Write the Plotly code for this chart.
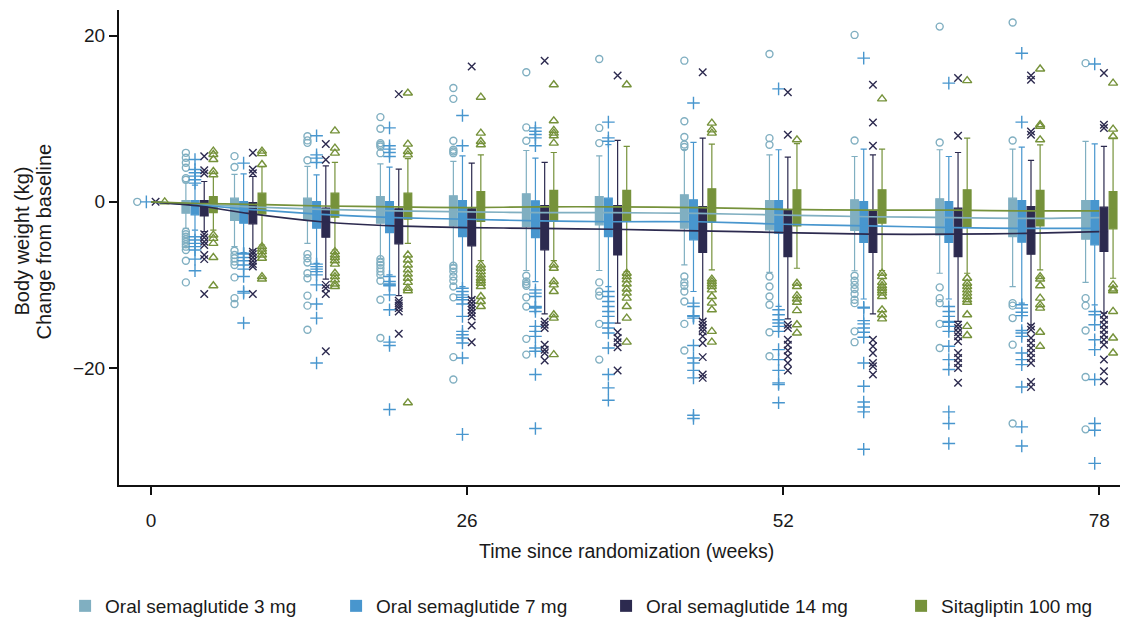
import plotly.graph_objects as go

# Visit schedule (weeks since randomization)
WEEKS = [4, 8, 14, 20, 26, 32, 38, 45, 52, 59, 66, 72, 78]
MEAN_WEEKS = [0, 4, 8, 14, 20, 26, 32, 38, 45, 52, 59, 66, 72, 78]
X_TICKS = [0, 26, 52, 78]
Y_TICKS = [-20, 0, 20]

NAMES = ["Oral semaglutide 3 mg", "Oral semaglutide 7 mg",
         "Oral semaglutide 14 mg", "Sitagliptin 100 mg"]
BASELINE = [0, 0, 0, 0]

# ---- Oral semaglutide 3 mg -------------------------------------------------
SEMA3_Q1 = [-1.37, -2.25, -2.17, -2.57, -2.9, -2.97, -2.77, -3.17, -3.37, -3.45, -3.98, -4.18, -4.5]
SEMA3_MED = [-0.4, -0.8, -0.8, -1.0, -1.1, -1.0, -1.1, -1.2, -1.6, -1.7, -1.8, -1.9, -2.1]
SEMA3_Q3 = [0.16, 0.44, 0.44, 0.64, 0.72, 0.96, 0.64, 0.84, 0.16, 0.24, 0.36, 0.44, 0.16]
SEMA3_LO = [-3.2, -5.4, -5.0, -6.8, -7.6, -8.27, -8.27, -7.6, -8.5, -8.3, -8.6, -10.2, -9.7]
SEMA3_HI = [2.3, 3.3, 4.26, 4.58, 4.86, 6.18, 5.54, 6.3, 5.66, 5.46, 6.27, 6.35, 7.27]
SEMA3_MEAN = [0, -0.3, -0.6, -0.9, -1.1, -1.2, -1.3, -1.3, -1.4, -1.6, -1.8, -1.9, -2.0, -1.9]
SEMA3_OUT = [
    [5.9, 5.3, 4.7, 4.1, 2.85, 2.65, -3.6, -3.9, -4.2, -4.5, -4.8, -5.1, -5.4, -5.8, -7.1, -9.7],
    [5.5, 4.2, -5.9, -6.4, -6.8, -7.2, -7.6, -9.1, -11.6, -12.3],
    [7.9, 7.4, 7.1, 5.0, -6.3, -6.8, -7.3, -8.6, -9.2, -11.3, -12.5, -15.4],
    [10.2, 8.8, 7.07, 6.87, 6.67, 5.86, -6.9, -7.3, -7.6, -8.0, -8.4, -8.8, -9.5, -11.8, -16.4],
    [13.7, 12.4, 7.35, 6.27, 6.06, 5.86, -7.7, -8.0, -8.4, -9.0, -9.5, -10.2, -11.5, -18.7, -21.4],
    [15.6, 8.96, 7.35, -8.9, -9.6, -9.9, -10.1, -11.5, -12.6, -16.5, -18.4],
    [17.2, 8.9, 7.07, -9.7, -10.8, -11.3, -14.7, -19.0],
    [17.0, 9.7, 7.8, 6.9, 6.6, -9.0, -9.7, -10.1, -10.8, -12.0, -14.7, -17.9],
    [17.8, 7.67, 6.87, -9.0, -10.2, -11.4, -12.4, -15.7, -18.6],
    [20.1, 7.39, -8.9, -9.5, -10.0, -10.5, -11.1, -11.8, -12.2, -15.6, -16.9],
    [21.1, 7.15, -10.3, -11.6, -12.2, -14.7, -17.6],
    [21.6, 7.39, -12.2, -12.5, -14.0, -17.2, -26.7],
    [16.7, -11.6, -12.5, -15.5, -21.1, -27.4],
]

# ---- Oral semaglutide 7 mg -------------------------------------------------
SEMA7_Q1 = [-1.57, -2.57, -3.17, -3.7, -4.18, -4.3, -4.18, -4.58, -3.78, -4.9, -4.9, -4.86, -5.18]
SEMA7_MED = [-0.6, -1.1, -1.5, -1.8, -2.0, -2.1, -2.1, -2.3, -1.9, -2.4, -2.5, -2.6, -2.7]
SEMA7_Q3 = [0.16, 0.04, 0.04, 0.04, 0.16, 0.12, 0.44, 0.24, 0.16, 0.04, 0.04, 0.16, 0.16]
SEMA7_LO = [-3.4, -6.1, -7.4, -8.8, -10.2, -9.6, -10.2, -10.8, -12.6, -11.7, -11.7, -12.2, -12.4]
SEMA7_HI = [2.0, 3.37, 3.25, 4.18, 5.54, 5.26, 6.9, 7.15, 6.27, 6.35, 5.46, 6.59, 6.99]
SEMA7_MEAN = [0, -0.4, -0.9, -1.5, -1.9, -2.1, -2.3, -2.4, -2.4, -2.7, -2.9, -3.1, -3.2, -3.2]
SEMA7_OUT = [
    [5.1, 3.9, 3.5, 3.1, 2.65, 2.25, -4.2, -4.6, -5.0, -5.4, -5.8, -6.9, -8.3],
    [4.66, -6.2, -6.3, -6.7, -7.1, -7.6, -8.1, -9.0, -10.8, -11.0, -14.6],
    [7.95, 5.66, 5.26, 4.74, -7.5, -7.8, -8.1, -8.4, -8.8, -10.0, -12.3, -14.0, -19.4],
    [8.9, 6.75, 6.35, 5.94, 5.46, -9.0, -9.6, -9.9, -10.0, -10.1, -11.2, -13.0, -16.9, -17.3, -25.0],
    [10.4, 6.75, -10.4, -10.8, -11.2, -11.5, -11.8, -12.3, -13.8, -15.6, -16.0, -16.4, -17.0, -18.8, -28.0],
    [8.9, 8.5, 8.1, 7.7, 6.75, -10.6, -11.0, -11.4, -12.6, -12.7, -12.8, -13.2, -15.0, -15.6, -16.2,
     -17.6, -18.0, -20.8, -27.3],
    [9.6, 7.7, 7.3, -10.8, -11.4, -12.0, -12.6, -13.2, -13.8, -14.6, -15.2, -15.8, -17.6, -20.8, -22.4, -23.9],
    [11.9, -12.2, -12.6, -13.7, -13.8, -14.0, -17.3, -18.8, -19.4, -20.3, -21.2, -25.7, -26.1],
    [13.6, -13.0, -13.6, -14.2, -14.6, -15.0, -15.6, -17.8, -19.0, -20.3, -21.8, -22.0, -24.2],
    [17.3, -12.7, -12.8, -14.3, -14.7, -15.2, -15.7, -16.3, -19.4, -22.2, -24.1, -24.7, -25.3, -29.8],
    [14.3, -12.6, -13.2, -13.8, -14.4, -14.5, -15.0, -15.6, -17.4, -19.0, -20.2, -25.3, -26.7, -29.1],
    [17.9, 9.6, -12.4, -12.8, -13.3, -13.7, -15.5, -15.8, -16.2, -18.2, -19.0, -19.6, -22.3, -27.1, -29.4],
    [16.6, -13.2, -13.6, -14.8, -16.6, -17.8, -21.4, -26.7, -27.5, -31.5],
]

# ---- Oral semaglutide 14 mg ------------------------------------------------
SEMA14_Q1 = [-1.7, -2.65, -4.26, -5.06, -5.3, -5.78, -6.39, -6.1, -6.6, -6.1, -6.6, -6.3, -5.98]
SEMA14_MED = [-0.7, -1.4, -2.4, -2.9, -3.0, -3.1, -3.3, -3.4, -3.7, -3.8, -3.9, -3.8, -3.6]
SEMA14_Q3 = [0.16, -0.08, -0.76, -0.84, -0.84, -0.44, -0.44, -0.56, -0.96, -1.04, -0.76, -0.56, -0.64]
SEMA14_LO = [-3.6, -5.8, -9.3, -11.3, -11.6, -13.5, -14.6, -14.2, -14.1, -13.5, -14.4, -14.8, -13.4]
SEMA14_HI = [2.45, 3.05, 4.34, 3.94, 4.66, 4.74, 7.4, 7.67, 5.38, 5.66, 5.94, 4.98, 6.67]
SEMA14_MEAN = [0, -0.5, -1.4, -2.4, -2.9, -3.1, -3.2, -3.3, -3.5, -3.7, -3.9, -3.9, -3.8, -3.6]
SEMA14_OUT = [
    [5.5, 3.8, 3.4, -3.9, -4.3, -4.8, -5.2, -6.4, -6.9, -11.1],
    [5.9, 3.9, 3.45, -6.0, -6.3, -6.7, -7.1, -7.5, -7.8, -11.1],
    [6.95, 5.06, -10.0, -10.4, -11.1, -18.0],
    [12.97, -11.9, -12.2, -12.5, -12.8, -13.2, -15.9],
    [16.3, -11.8, -12.2, -12.6, -13.0, -13.4, -13.8, -14.9, -16.9],
    [17.0, -14.4, -14.8, -15.2, -17.2, -17.8, -18.2, -19.1],
    [15.2, -15.7, -16.4, -16.9, -17.5, -20.3],
    [15.6, -14.4, -14.8, -15.2, -15.6, -16.2, -17.0, -18.7, -20.8, -21.2],
    [13.2, 8.07, -14.8, -15.2, -16.6, -17.2, -17.9, -18.6, -19.4, -20.3],
    [14.1, 9.56, 6.75, -16.6, -17.4, -18.2, -19.4, -19.8, -20.8],
    [14.9, 7.95, -14.8, -15.2, -15.7, -16.2, -16.8, -18.2, -18.8, -19.4, -20.0, -21.8],
    [15.2, 14.7, 8.47, 8.07, -15.0, -15.4, -16.4, -17.0, -17.6, -18.2, -18.8, -19.4, -21.7, -22.3],
    [15.5, 9.28, 8.88, -13.6, -14.2, -14.8, -15.4, -16.0, -16.6, -17.2, -19.0, -20.4, -21.6],
]

# ---- Sitagliptin 100 mg ----------------------------------------------------
SITA_Q1 = [-1.29, -1.45, -1.85, -2.1, -2.37, -2.37, -2.37, -2.49, -2.9, -2.57, -2.97, -2.9, -3.25]
SITA_MED = [-0.2, -0.2, -0.4, -0.5, -0.5, -0.5, -0.5, -0.5, -0.7, -0.7, -0.8, -0.8, -0.9]
SITA_Q3 = [0.64, 1.04, 1.04, 1.04, 1.24, 1.37, 1.37, 1.57, 1.45, 1.45, 1.45, 1.37, 1.24]
SITA_LO = [-3.4, -5.2, -5.8, -5.0, -7.07, -7.07, -8.4, -8.2, -8.0, -8.27, -8.6, -8.2, -9.2]
SITA_HI = [3.05, 4.25, 4.74, 5.2, 5.66, 5.94, 6.67, 6.95, 7.0, 6.35, 7.67, 6.87, 7.67]
SITA_MEAN = [0, -0.2, -0.3, -0.5, -0.6, -0.7, -0.6, -0.6, -0.7, -0.9, -1.0, -1.0, -1.1, -1.1]
SITA_OUT = [
    [6.1, 5.7, 5.1, 3.65, 3.25, -4.0, -4.4, -5.0, -6.7, -10.1],
    [6.1, 5.8, 4.5, -5.4, -5.7, -6.0, -6.4, -6.8, -9.0, -9.3],
    [8.55, 6.47, 5.86, -6.0, -6.4, -6.7, -7.1, -7.5, -8.6, -9.0, -9.4, -9.9, -10.2],
    [13.1, 6.95, 6.06, 5.66, -6.4, -7.0, -7.6, -8.2, -8.7, -9.2, -9.7, -10.4, -10.7, -24.2],
    [12.6, 8.27, 7.27, 6.87, -7.6, -8.0, -8.4, -8.8, -9.2, -9.5, -9.8, -10.2, -11.4, -12.0, -12.6],
    [14.1, 9.76, 8.6, 8.27, 7.95, 7.07, -7.6, -8.0, -9.6, -10.0, -10.8, -13.6, -14.0, -18.4],
    [14.1, -8.6, -9.0, -9.4, -9.9, -10.5, -11.0, -11.6, -12.6, -14.0, -16.9],
    [9.48, 8.67, 8.27, -9.3, -9.6, -9.9, -10.2, -10.6, -11.4, -12.2, -13.0, -15.6, -16.9],
    [7.47, -9.8, -10.2, -11.3, -11.7, -12.1, -13.1, -14.8, -15.8],
    [12.4, -8.6, -9.0, -9.7, -10.1, -10.4, -10.7, -11.0, -11.4, -13.0, -13.6, -14.1],
    [14.6, -9.2, -9.8, -10.2, -10.6, -11.0, -11.4, -11.8, -12.1, -13.6, -15.0, -16.1],
    [16.0, 9.28, 9.08, 7.47, -9.0, -9.3, -10.1, -11.6, -12.4, -12.8, -15.7, -17.4],
    [14.3, 8.76, 7.87, -10.0, -10.5, -10.7, -13.2, -16.4, -18.2],
]

# ---- Styling -----------------------------------------------------------------
COLORS = ["#80AFC1", "#4896CE", "#2C2A4F", "#76923B"]
SYMBOLS = ["circle-open", "cross-thin-open", "x-thin-open", "triangle-up-open"]
SYMBOL_SIZES = [7, 9, 7.5, 8]
OFFSETS = [-1.13, -0.38, 0.38, 1.13]   # position of each arm within a visit cluster
BOX_WIDTH = 0.64
FONT = "Liberation Sans, Arial, sans-serif"
TEXT_COLOR = "#1a1a1a"
LEGEND_X = [0.0575, 0.2969, 0.5354, 0.7960]   # container fractions, one per arm

series = [
    (SEMA3_Q1, SEMA3_MED, SEMA3_Q3, SEMA3_LO, SEMA3_HI, SEMA3_OUT, SEMA3_MEAN),
    (SEMA7_Q1, SEMA7_MED, SEMA7_Q3, SEMA7_LO, SEMA7_HI, SEMA7_OUT, SEMA7_MEAN),
    (SEMA14_Q1, SEMA14_MED, SEMA14_Q3, SEMA14_LO, SEMA14_HI, SEMA14_OUT, SEMA14_MEAN),
    (SITA_Q1, SITA_MED, SITA_Q3, SITA_LO, SITA_HI, SITA_OUT, SITA_MEAN),
]

fig = go.Figure()

# Boxes, outliers and baseline point for each arm
for i, (q1, med, q3, lo, hi, out, _mean) in enumerate(series):
    color = COLORS[i]
    pos = [w + OFFSETS[i] for w in WEEKS]
    fig.add_trace(go.Box(
        x=pos, q1=q1, median=med, q3=q3, lowerfence=lo, upperfence=hi,
        width=BOX_WIDTH, whiskerwidth=0.8,
        fillcolor=color, line=dict(color=color, width=1.2),
        boxpoints=False, showlegend=False, name=NAMES[i], hoverinfo="skip",
    ))
    ox, oy = [], []
    for w, vals in zip(WEEKS, out):
        ox.extend([w + OFFSETS[i]] * len(vals))
        oy.extend(vals)
    ox.append(0 + OFFSETS[i])
    oy.append(BASELINE[i])
    fig.add_trace(go.Scatter(
        x=ox, y=oy, mode="markers", showlegend=False, hoverinfo="skip",
        marker=dict(symbol=SYMBOLS[i], size=SYMBOL_SIZES[i], color=color,
                    line=dict(width=1.4, color=color)),
    ))

# Mean trajectories drawn over the boxes
for i, s in enumerate(series):
    fig.add_trace(go.Scatter(
        x=MEAN_WEEKS, y=s[6], mode="lines", showlegend=False, hoverinfo="skip",
        line=dict(color=COLORS[i], width=1.7, shape="spline", smoothing=0.6),
    ))

# Legend entries (square swatches), one legend per arm so each can be placed
legend_ids = ["legend", "legend2", "legend3", "legend4"]
for i in range(4):
    fig.add_trace(go.Scatter(
        x=[None], y=[None], mode="markers", name=NAMES[i], legend=legend_ids[i],
        marker=dict(symbol="square", size=12, color=COLORS[i]),
    ))

axis_common = dict(
    showline=True, linecolor="#111111", linewidth=2,
    ticks="outside", ticklen=8, tickwidth=1.5, tickcolor="#111111",
    showgrid=False, zeroline=False,
    tickfont=dict(family=FONT, size=19, color=TEXT_COLOR),
)

legend_style = dict(orientation="h", xref="container", yref="container",
                    y=0.021, xanchor="left", yanchor="middle",
                    font=dict(family=FONT, size=19, color=TEXT_COLOR),
                    itemwidth=30, bgcolor="rgba(0,0,0,0)")

fig.update_layout(
    width=1132, height=619,
    margin=dict(l=119, r=12, t=10, b=134),
    paper_bgcolor="white", plot_bgcolor="white",
    font=dict(family=FONT, size=19, color=TEXT_COLOR),
    boxmode="overlay",
    xaxis=dict(range=[-2.63, 79.7], tickvals=X_TICKS, ticklabelstandoff=9,
               **axis_common),
    yaxis=dict(range=[-34.1, 23.1], tickvals=Y_TICKS, **axis_common),
    legend=dict(x=LEGEND_X[0], **legend_style),
    legend2=dict(x=LEGEND_X[1], **legend_style),
    legend3=dict(x=LEGEND_X[2], **legend_style),
    legend4=dict(x=LEGEND_X[3], **legend_style),
)

# X-axis title
fig.add_annotation(
    text="Time since randomization (weeks)", xref="paper", yref="paper",
    x=0.5, y=0, xanchor="center", yanchor="middle", xshift=7, yshift=-66,
    showarrow=False, font=dict(family=FONT, size=19.5, color=TEXT_COLOR),
)

# Two-line y-axis title
for text, shift in [("Body weight (kg)", -98), ("Change from baseline", -76)]:
    fig.add_annotation(
        text=text, xref="paper", yref="paper", x=0, y=0.5,
        xanchor="center", yanchor="middle", xshift=shift, yshift=6,
        textangle=-90, showarrow=False,
        font=dict(family=FONT, size=20, color=TEXT_COLOR),
    )

fig.write_html("out.html")
